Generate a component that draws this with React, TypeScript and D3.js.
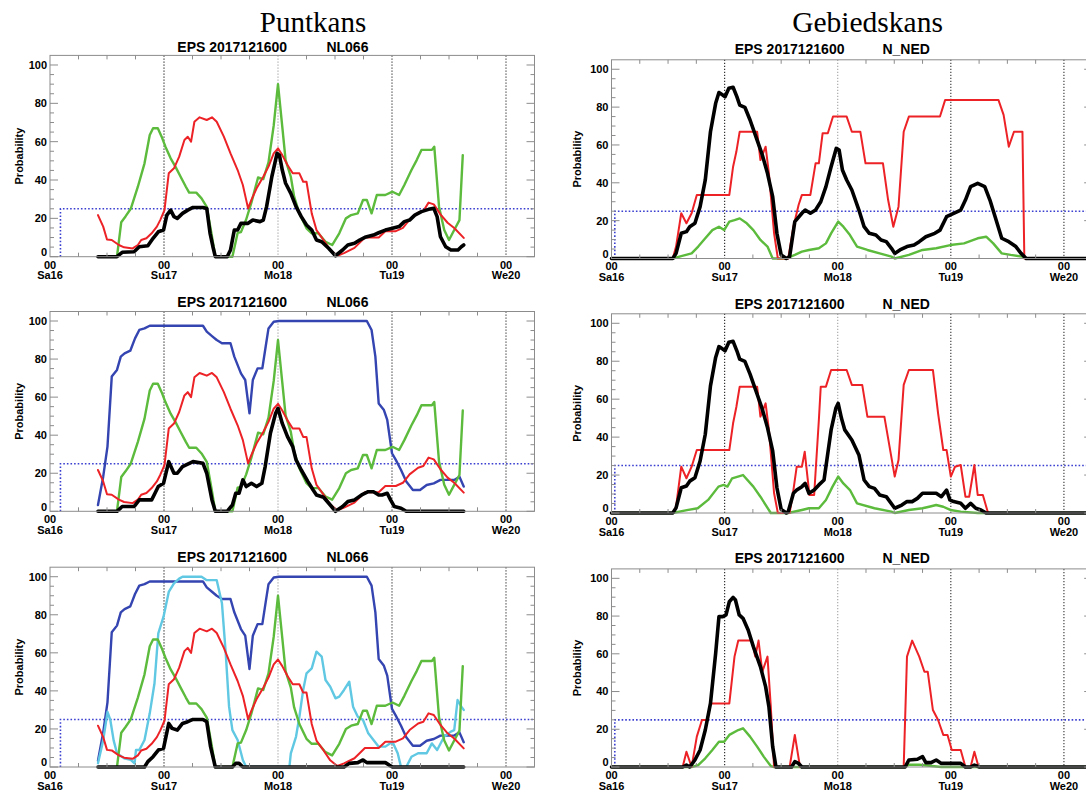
import React from 'react'
import * as d3 from 'd3'

type Pt = [number, number]

// time axis: hours since 00 Sa16
const dayHours = [0, 24, 48, 72, 96]
const dayLabels = ['Sa16', 'Su17', 'Mo18', 'Tu19', 'We20']
const yTicks = [0, 20, 40, 60, 80, 100]
const threshold = 25
const runLabel = 'EPS 2017121600'

// Puntkans (NL066)
const ptGreen: Pt[] = [[14.1,0],[15,18],[15.9,21],[17,25],[18.5,36.5],[19.9,48.7],[21,63.5],[21.7,67],[22.7,67],[23.5,62.6],[24.3,57.4],[25.4,51.3],[26.4,47],[27.5,41.7],[28.6,36.5],[29.3,33.4],[30.8,33.4],[31.9,30.4],[33,26],[34,12],[34.8,0],[38.4,0],[39.5,12.4],[40.2,12.8],[41.3,19.4],[42.4,28.2],[43.8,41.3],[44.9,40.5],[46,49.2],[47.1,68.5],[48,90],[48.9,67.8],[49.6,50.4],[50.7,41.7],[51.4,31.3],[52.5,22.6],[54,14.8],[55.1,12.2],[56.5,12.2],[58,7.8],[59.4,6.1],[60.9,12.2],[62.3,20],[63.4,21.7],[64.8,22.6],[65.9,29.6],[66.7,29.6],[67.7,22.6],[68.8,32.2],[70.6,32.2],[72.1,33.9],[73.5,32.2],[74.6,37.4],[76.1,45.2],[77.2,50.4],[78.2,55.7],[80.4,55.7],[80.9,57.4],[81.9,26.1],[83,13.9],[84,8.7],[85.1,13.9],[86.2,19.1],[86.9,53]]
const ptRed: Pt[] = [[10.1,21.7],[11.2,15.7],[12,9],[13,8.7],[14.5,6.1],[15.6,4.9],[17.4,4.3],[18.5,6.1],[19.2,8.7],[20.3,9.6],[21.4,12.2],[22.5,15.7],[23.2,19.1],[24.1,24.3],[25,43.5],[26.1,46.1],[27.2,52.2],[28.3,60.9],[29,62.6],[29.7,60],[30.4,70.4],[31.5,72.7],[33,71.3],[34.1,72.7],[35.1,70.4],[36.6,62.6],[38,53.9],[39.5,45.2],[40.6,37.4],[41.7,25.2],[42.4,29.6],[43.5,35.7],[44.9,41.7],[46,47],[47.1,53.9],[48,56.5],[48.9,53],[50,47.8],[51.1,43.5],[52.5,43.5],[53.3,39.1],[54,39.1],[55.1,22.6],[56.1,13.9],[57.6,8.7],[59,3.5],[60.5,0.5],[61.9,1.9],[64.1,4.6],[66.3,10],[69.2,10],[70.6,13.3],[72.8,13.3],[74.3,15],[75.7,19.4],[77.5,22.9],[78.6,23.8],[79.7,28.2],[80.8,27.3],[82.2,22.1],[83.7,17.7],[85.1,15],[87.1,9.8]]
const ptBlue: Pt[] = [[10.1,3.3],[11.2,18.2],[12.1,34],[13,70.8],[14.1,74.3],[14.9,81.3],[15.7,83],[16.9,84.4],[17.9,90.9],[18.8,95.3],[19.9,96.1],[21,97.5],[32.2,97.5],[33,94.4],[34.1,92.1],[35.1,90],[36.2,88.3],[38,88.3],[38.8,81.3],[40.2,72.5],[41.1,69],[42,51.5],[42.7,69],[43.7,75.1],[44.7,75.1],[45.4,86.5],[46,96.1],[47.1,99.6],[48.2,100],[66.7,100],[67.7,95.3],[68.5,81.3],[69.2,56.7],[70.3,53.2],[71,48],[72,30.5],[72.8,27],[73.9,21.7],[75,15.6],[76.4,11.2],[77.9,11.2],[79.3,13.8],[80.8,14.7],[82.2,16.5],[85.1,16.5],[86.2,18.2],[87.1,13]]
const ptCyan: Pt[] = [[10.1,2],[11.2,14],[12.1,29],[12.7,24.7],[13.4,14],[14.1,7.2],[15.6,4.6],[17,3.7],[17.8,1.9],[18.1,8.9],[18.8,8.9],[19.9,14.2],[21,28.2],[22,44],[22.8,70.2],[23.9,79],[25,92],[26.1,96.5],[27.2,99],[27.9,100],[31.9,100],[33,98.2],[35.1,98.2],[36.2,86],[37,59.7],[37.7,31.7],[38.4,19.4],[39.5,14.2],[40.6,3.7],[41.3,0],[50.4,0],[50.7,7.2],[51.8,16],[52.5,26.4],[53.3,40.5],[54,49.2],[55.1,51.8],[56.1,60.6],[57.2,58],[58,45.7],[59,42.2],[60.1,36.1],[60.9,37],[61.9,40.5],[63,44.8],[63.8,31.7],[64.8,26.4],[65.9,24.7],[67,17.7],[68.1,14.2],[69.2,10.7],[70.6,10.7],[72.1,13.3],[73.2,7.2],[73.9,0],[75,0],[76.1,5.4],[77.5,7.2],[79.3,7.2],[80.4,12.4],[81.5,8.9],[83,16],[84.4,18.6],[85.1,19.4],[85.8,35.2],[86.6,31.7],[87.1,30]]
const ptBlack1: Pt[] = [[10.1,0],[14.1,0],[15.2,2.3],[17.7,2.6],[18.8,5.2],[20.6,5.7],[21.7,9.6],[22.8,13],[23.9,13.9],[24.6,21.7],[25.4,24.3],[26.1,20.9],[26.8,20],[27.9,22.6],[29,24.3],[30.1,25.7],[32.2,25.7],[33,25.2],[33.7,12.2],[34.3,5.2],[34.8,0],[37.3,0],[38,3.5],[38.8,13.9],[39.5,13.9],[40.2,17.4],[41.7,17.4],[42.7,19.1],[44.2,18.3],[44.9,19.1],[45.6,26.1],[46.7,41.7],[47.8,53.9],[48.3,53],[48.9,45.2],[49.6,38.3],[50.7,33],[51.8,26.1],[52.9,20.9],[54,16.5],[55.1,13.9],[56.1,8.7],[57.2,7.8],[58.7,4.3],[60.1,0.5],[61.6,3.5],[62.7,6.1],[64.1,7],[65.2,8.7],[66.3,10.1],[68.1,11.3],[69.2,12.5],[70.6,13.9],[72.1,14.8],[73.5,15.7],[74.6,18.3],[75.7,19.1],[76.8,21.7],[78.2,23.5],[79.7,24.7],[80.8,25.2],[81.5,20.9],[82.2,10.4],[83.3,5.2],[84.4,3.5],[85.9,3.5],[86.6,5.2],[87.1,6.1]]
const ptBlack2: Pt[] = [[10.1,0],[14.1,0],[15.2,2.5],[17.7,2.5],[18.8,6],[21.4,6],[22.1,9.5],[22.8,13],[23.9,14.7],[25,26.1],[26.1,20],[26.8,20],[27.9,23.5],[30.1,26.1],[32.2,25.2],[33,20],[34.1,6],[34.8,0],[37.3,0],[38.4,3.3],[39.1,9.5],[39.8,9.5],[40.6,16.5],[41.3,13],[42.4,14.7],[43.5,13],[44.6,14.7],[45.3,23.5],[46.4,41],[47.5,51.5],[48,54.1],[48.9,46.2],[50,39.2],[51.1,34],[51.8,27],[52.9,21.7],[54.3,15.6],[55.4,11.2],[56.1,8.6],[57.6,7.4],[59,3.3],[60.1,0],[61.6,2.5],[62.7,5.1],[64.1,6],[65.6,8.6],[67,10.3],[68.1,10.3],[69.2,8.6],[69.9,8.6],[71,9.5],[71.7,6],[72.5,2.5],[73.9,1.6],[75,0],[87.1,0]]
const ptBlack3: Pt[] = [[10.1,0],[19.9,0],[20.6,2.8],[21.7,5.4],[22.8,8.9],[23.9,9.8],[25,22.9],[25.7,20.3],[26.8,19.4],[27.9,22.9],[29,23.8],[30.1,25],[32.2,25],[33,23.8],[33.8,10.7],[34.8,0],[38.4,0],[39.1,1.9],[39.8,1.9],[40.6,0],[61.9,0],[63,1.9],[64.8,2.3],[65.9,3.7],[66.7,2.3],[70.6,2.3],[71.4,1],[72.1,0],[87.1,0]]

// Gebiedskans (N_NED)
const gbBlack1: Pt[] = [[0,0],[13,0],[13.7,2.7],[14.8,13.3],[15.9,14.2],[16.6,16.8],[17.7,18.6],[18.8,27.4],[19.9,41.5],[21,67],[22.1,82],[22.8,87.7],[23.6,86.4],[24.1,85.5],[24.9,90],[25.8,90.5],[26.6,85.5],[27.2,81.1],[28.3,79.9],[29.4,73.2],[30.9,62.6],[32,54.7],[33.1,45],[34.2,32.7],[35.1,13.3],[36,1.9],[37.1,0],[37.8,1],[38.9,19.5],[40.4,23.9],[41.1,25.6],[42.2,23.9],[43.3,25.6],[44.4,30],[45.5,38],[46.6,48.5],[47.7,58.2],[48.3,57.3],[49,46.8],[49.9,41.5],[51,36.2],[52.5,25.6],[53.6,16.8],[54.7,13.3],[56.1,12.4],[57.2,9.8],[58.3,8.9],[59.4,5.4],[60.1,2.7],[61.2,4.5],[62.7,6.3],[64.2,7.1],[65.3,8.9],[66.7,11.5],[68.6,13.3],[69.7,15],[71.1,22.1],[72.6,23.9],[74.1,25.6],[75.1,30.9],[76.2,38],[77.7,39.7],[79.2,38],[80.3,30.9],[81.4,22.1],[82.8,10.7],[84.3,8.9],[85.8,6.3],[86.9,2.7],[88,0],[102,0]]
const gbRed1: Pt[] = [[0,0],[13,0],[13.7,6.3],[14.8,23.9],[15.9,18.6],[17,23.9],[18.1,33.6],[25,33.6],[25.8,48.5],[26.5,56.5],[27.2,67],[30.9,67],[31.6,52],[32.7,59.1],[33.4,45],[34.5,13.3],[35.3,0],[37.5,0],[38.6,16.8],[39.7,28.3],[40.4,33.6],[42.2,33.6],[43.3,50.3],[44,50.3],[44.8,66.2],[45.9,66.2],[47,75],[49.9,75],[51,67],[52.8,67],[53.9,50.3],[57.6,50.3],[58.7,30.9],[59.8,16.8],[60.9,27.4],[62,67],[63.1,75],[69.7,75],[70.8,83.8],[82.1,83.8],[83.2,75.9],[84.3,59.1],[85.4,67],[87.2,67],[87.6,0],[102,0]]
const gbGreen1: Pt[] = [[0,0],[13,0],[14.8,1.3],[17,2.7],[18.4,6.3],[19.9,10.7],[21.4,15],[22.8,16.8],[23.9,15],[25,19.5],[26.1,20.3],[27.2,21.2],[28.7,18.6],[30.1,15],[31.6,9.8],[33.1,6.3],[34.2,0],[37.1,0],[38.9,1.9],[40.4,3.6],[41.9,4.5],[44,5.4],[45.5,8],[46.6,13.3],[48.1,19.5],[49.2,16.8],[50.6,12.4],[52.1,6.3],[54.3,4.5],[56.9,2.7],[59.4,1],[60.1,0],[63.1,1.9],[66,4.5],[68.9,5.4],[71.9,7.1],[74.8,8],[77.7,10.7],[79.5,11.5],[81,8],[82.8,2.7],[84.7,1.9],[87.2,1],[88.3,0],[102,0]]
const gbBlack2: Pt[] = [[0,0],[13,0],[13.7,2.7],[14.8,13.3],[15.9,14.2],[16.6,16.8],[17.7,18.6],[18.8,27.4],[19.9,41.5],[21,67],[22.1,82],[22.8,87.7],[23.6,86.4],[24.1,85.5],[24.9,90],[25.8,90.5],[26.6,85.5],[27.2,81.1],[28.3,79.9],[29.4,73.2],[30.9,62.6],[32,54.7],[33.1,45],[34.2,32.7],[35.1,13.3],[36,1.9],[37.1,0],[37.5,0.7],[38.6,10.4],[39.3,12.1],[40.4,13.9],[41.1,15.6],[41.9,10.4],[43,12.1],[44,14.8],[45.1,17.4],[45.9,31.5],[46.6,43.8],[47.6,55.2],[48.1,57.8],[48.8,49.9],[49.5,43.8],[51,38.5],[52.5,30.6],[53.6,17.4],[54.7,13.9],[55.8,13],[56.9,9.5],[58.3,8.6],[60.1,2.5],[61.6,4.2],[62.7,6],[63.8,6],[64.9,7.7],[66,10.4],[68.9,10.4],[70,8.6],[71.1,12.1],[71.8,6.9],[72.6,6],[74.1,5.1],[75.1,2.5],[76.2,5.1],[77.3,2.5],[78.4,1.6],[79.5,0],[102,0]]
const gbRed2: Pt[] = [[0,0],[13,0],[13.7,3.3],[14.8,24.4],[15.9,18.3],[17,24.4],[18.1,33.2],[25,33.2],[25.8,47.3],[26.5,56],[27.2,66.6],[30.9,66.6],[31.6,50.8],[32.7,57.8],[33.4,43.8],[34.5,10.4],[35.3,0],[37.8,0],[38.6,12.1],[39.3,24.4],[40.4,24.4],[41,32.3],[41.5,20.9],[42,9.5],[43,9.5],[44,49],[44.4,66.6],[45.5,66.6],[46.6,75.4],[49.9,75.4],[51,67.5],[53.2,67.5],[54.3,50.8],[57.9,50.8],[59,35],[60.1,19.2],[60.9,27.9],[62,67.5],[63.1,75.4],[68.2,75.4],[69.3,52.5],[70.4,33.2],[71.1,33.2],[72,19.2],[72.9,24.4],[74.1,25.3],[75.1,8.6],[75.9,8.6],[77,25.3],[77.7,9.5],[78.8,9.5],[79.9,0],[102,0]]
const gbGreen2: Pt[] = [[0,0],[13,0],[16,1.5],[18.3,2.5],[20.5,6.9],[22.7,13.9],[23.8,14.8],[24.6,13.9],[25.6,18.3],[27.9,20],[30.1,13.9],[31.6,8.6],[33.8,0],[37.5,0],[40.4,1.6],[41.9,2.5],[44,2.5],[45.5,6.9],[46.9,13.9],[48.1,19.2],[49.2,15.6],[50.6,12.1],[52.1,5.1],[55.8,2.5],[59.4,0.7],[60.1,0],[63.1,1.6],[66,2.5],[67.4,3.3],[68.9,4.2],[70.4,3.3],[71.9,1.6],[74.1,0.7],[77.7,0],[102,0]]
const gbBlack3: Pt[] = [[0,0],[15.1,0],[15.9,1],[16.6,0],[17.7,3.7],[18.8,9],[19.9,19.6],[21,33.7],[22.1,60.2],[22.8,79.7],[23.6,79.7],[24.3,80.6],[25,87.6],[25.8,89.9],[26.3,88.5],[27.1,80.6],[27.9,78.8],[29,72.6],[30.1,63.8],[31.6,53.2],[32.7,42.6],[33.4,32],[34.2,10.8],[34.9,0],[38.2,0],[38.9,2.8],[39.7,1.9],[40.4,0],[62.3,0],[63.1,3.7],[64.9,4.1],[66,5.5],[66.7,2.3],[67.8,2.3],[68.9,3.7],[70,1.9],[74.1,1.9],[75.1,0],[76.2,0],[77,1],[78.1,0],[102,0]]
const gbRed3: Pt[] = [[0,0],[15.1,0],[15.9,8.1],[17,0],[18.1,16.1],[19.2,24.9],[20.3,24.9],[21,33.7],[25,33.7],[26.1,58.5],[26.9,67],[29.8,67],[30.5,58.5],[31.2,67],[32,50.5],[33.1,58.5],[33.8,32],[34.5,0],[37.8,0],[38.9,17],[40,0],[62,0],[62.7,58.5],[63.8,67],[65.3,58.5],[66.4,50.5],[67.1,50.5],[68.2,30.2],[69.3,24.9],[70.4,17],[71.3,17],[72.2,9],[74.1,9],[75.1,0],[76.2,0],[77,8.1],[77.9,0],[102,0]]
const gbGreen3: Pt[] = [[0,0],[17,0],[18.4,1],[19.9,4.6],[21.4,9],[22.8,13.4],[23.9,13.4],[25,17],[26.9,19.6],[27.9,20.5],[29.4,16.1],[30.9,10.8],[32.3,5.5],[33.8,0.5],[34.5,0],[62.3,0],[63.1,1.2],[65.3,1.2],[68,0.5],[70,0],[102,0]]

const RED = '#ec2227'
const GREEN = '#5cbb3c'
const BLUE = '#3444b0'
const CYAN = '#60c8e2'
const BLACK = '#000000'

type Series = { pts: Pt[]; color: string; width: number }
type Col = { x0: number; x1: number; labelX: number; titleX: number; codeX: number; code: string; thStart: number }
type Row = { top: number; bottom: number; titleY: number }

const leftCol: Col = { x0: 50, x1: 534.5, labelX: 19.5, titleX: 177.3, codeX: 326.4, code: 'NL066', thStart: 2.2 }
const rightCol: Col = { x0: 611.5, x1: 1092.2, labelX: 577.5, titleX: 734.7, codeX: 882.4, code: 'N_NED', thStart: 0.7 }
const leftRows: Row[] = [
  { top: 55.4, bottom: 256.7, titleY: 51.7 },
  { top: 311.5, bottom: 511.3, titleY: 306.7 },
  { top: 567.2, bottom: 767, titleY: 561.7 }
]
const rightRows: Row[] = [
  { top: 59.8, bottom: 258.5, titleY: 54.3 },
  { top: 313.8, bottom: 513, titleY: 309 },
  { top: 568.9, bottom: 767, titleY: 563.3 }
]

const s = (pts: Pt[], color: string, width = 2.2): Series => ({ pts, color, width })
const leftSeries: Series[][] = [
  [s(ptGreen, GREEN, 2.4), s(ptRed, RED, 2), s(ptBlack1, BLACK, 3.6)],
  [s(ptBlue, BLUE, 2.4), s(ptGreen, GREEN, 2.4), s(ptRed, RED, 2), s(ptBlack2, BLACK, 3.6)],
  [s(ptBlue, BLUE, 2.4), s(ptCyan, CYAN, 2.4), s(ptGreen, GREEN, 2.4), s(ptRed, RED, 2), s(ptBlack3, BLACK, 3.6)]
]
const rightSeries: Series[][] = [
  [s(gbGreen1, GREEN, 2.4), s(gbRed1, RED, 2), s(gbBlack1, BLACK, 3.6)],
  [s(gbGreen2, GREEN, 2.4), s(gbRed2, RED, 2), s(gbBlack2, BLACK, 3.6)],
  [s(gbGreen3, GREEN, 2.4), s(gbRed3, RED, 2), s(gbBlack3, BLACK, 3.6)]
]

const FONT = '"Liberation Sans", Arial, Helvetica, sans-serif'

function Panel({ col, row, series }: { col: Col; row: Row; series: Series[] }) {
  const x = d3.scaleLinear().domain([0, 102]).range([col.x0, col.x1])
  const y = d3.scaleLinear().domain([0, 105]).range([row.bottom, row.top])
  const line = d3.line<Pt>().x(d => x(d[0])).y(d => y(d[1]))
  const minorX = d3.range(6, 102, 6).filter(h => h % 24 !== 0)
  const minorY = d3.range(5, 105, 5).filter(v => v % 20 !== 0)
  const gridColor = ['#333', '#aaa', '#444', '#444']
  return (
    <g>
      <text x={col.titleX} y={row.titleY} fontFamily={FONT} fontWeight="bold" fontSize={14}>{runLabel}</text>
      <text x={col.codeX} y={row.titleY} fontFamily={FONT} fontWeight="bold" fontSize={14}>{col.code}</text>

      {/* day grid */}
      {dayHours.slice(1).map((h, i) => (
        <line key={h} x1={x(h)} x2={x(h)} y1={row.top} y2={row.bottom}
          stroke={gridColor[i]} strokeWidth={1.2} strokeDasharray="1.3 1.7" />
      ))}

      {/* threshold */}
      <path
        d={`M${x(col.thStart)},${y(0)}V${y(threshold)}H${col.x1}`}
        fill="none" stroke="#3b3fd0" strokeWidth={1.6} strokeDasharray="1.6 2" />

      {series.map((sr, i) => (
        <path key={i} d={line(sr.pts) || ''} fill="none" stroke={sr.color}
          strokeWidth={sr.width} strokeLinejoin="round" strokeLinecap="round" />
      ))}

      {/* frame and ticks */}
      <rect x={col.x0} y={row.top} width={col.x1 - col.x0} height={row.bottom - row.top}
        fill="none" stroke="#8c8c8c" strokeWidth={1} />
      {yTicks.map(v => (
        <g key={v} stroke="#8c8c8c">
          <line x1={col.x0} x2={col.x0 + 8} y1={y(v)} y2={y(v)} />
          <line x1={col.x1} x2={col.x1 - 8} y1={y(v)} y2={y(v)} />
        </g>
      ))}
      {minorY.map(v => (
        <g key={v} stroke="#8c8c8c">
          <line x1={col.x0} x2={col.x0 + 4} y1={y(v)} y2={y(v)} />
          <line x1={col.x1} x2={col.x1 - 4} y1={y(v)} y2={y(v)} />
        </g>
      ))}
      {minorX.map(h => (
        <g key={h} stroke="#8c8c8c">
          <line x1={x(h)} x2={x(h)} y1={row.top} y2={row.top + 4} />
          <line x1={x(h)} x2={x(h)} y1={row.bottom} y2={row.bottom - 4} />
        </g>
      ))}

      {/* y tick labels */}
      {yTicks.map(v => (
        <text key={v} x={col.x0 - 3} y={v === 0 ? y(0) - 4.5 : y(v)} dy="0.36em"
          textAnchor="end" fontFamily={FONT} fontWeight="bold" fontSize={11}>{v}</text>
      ))}
      <text transform={`translate(${col.labelX},${(row.top + row.bottom) / 2}) rotate(-90)`}
        textAnchor="middle" dy="0.36em" fontFamily={FONT} fontWeight="bold" fontSize={11}>Probability</text>

      {/* x tick labels */}
      {dayHours.map((h, i) => (
        <g key={h} fontFamily={FONT} fontWeight="bold" fontSize={11} textAnchor="middle">
          <text x={x(h)} y={row.bottom + 11.8}>00</text>
          <text x={x(h)} y={row.bottom + 22.5}>{dayLabels[i]}</text>
        </g>
      ))}
    </g>
  )
}

export default function App() {
  return (
    <svg width={1086} height={794} style={{ position: 'absolute', left: 0, top: 0, background: '#fff' }}>
      <rect width={1086} height={794} fill="#fff" />
      <text x={313} y={31.7} textAnchor="middle" fontFamily='"Liberation Serif", "Times New Roman", serif' fontSize={29}>Puntkans</text>
      <text x={867.5} y={31.7} textAnchor="middle" fontFamily='"Liberation Serif", "Times New Roman", serif' fontSize={29.5}>Gebiedskans</text>
      {leftRows.map((r, i) => <Panel key={'l' + i} col={leftCol} row={r} series={leftSeries[i]} />)}
      {rightRows.map((r, i) => <Panel key={'r' + i} col={rightCol} row={r} series={rightSeries[i]} />)}
    </svg>
  )
}
